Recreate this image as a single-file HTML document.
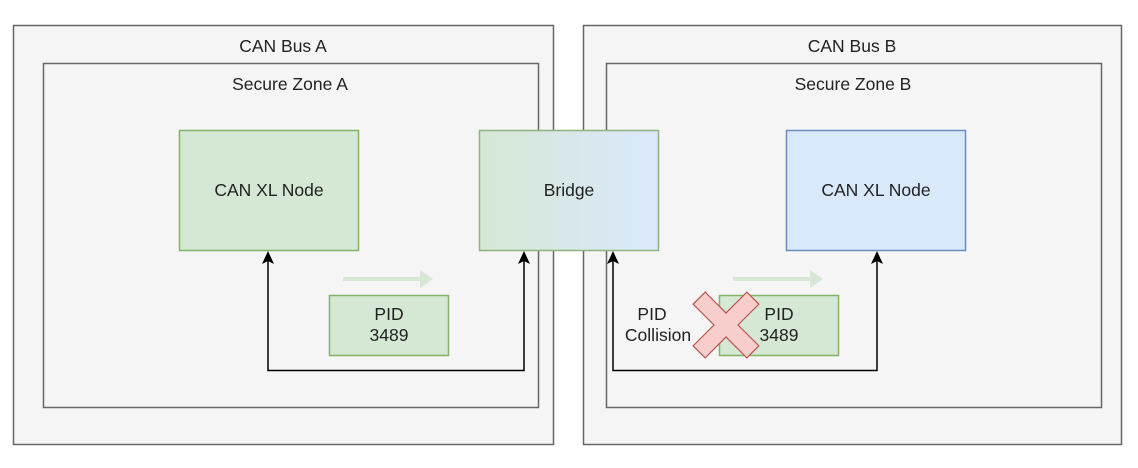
<!DOCTYPE html>
<html><head><meta charset="utf-8"><style>body{margin:0;background:#fff}svg{display:block}text{font-family:"Liberation Sans",Arial,sans-serif;fill:#222}</style></head><body>
<svg width="1138" height="468" viewBox="0 0 1138 468" xmlns="http://www.w3.org/2000/svg">
<defs>
<linearGradient id="g" x1="0" x2="1" y1="0" y2="0"><stop offset="0" stop-color="#d5e8d4"/><stop offset="1" stop-color="#dae8fc"/></linearGradient>
</defs>
<rect width="1138" height="468" fill="#fff"/>
<rect x="13.5" y="25.5" width="540" height="419" fill="#f5f5f5" stroke="#666" stroke-width="1.5"/>
<rect x="43.5" y="63.5" width="495" height="344" fill="#f5f5f5" stroke="#666" stroke-width="1.5"/>
<rect x="583.5" y="25.5" width="538" height="419" fill="#f5f5f5" stroke="#666" stroke-width="1.5"/>
<rect x="606.5" y="63.5" width="495" height="344" fill="#f5f5f5" stroke="#666" stroke-width="1.5"/>
<text x="283" y="52" font-size="17.5" text-anchor="middle">CAN Bus A</text>
<text x="290" y="90" font-size="17.5" text-anchor="middle">Secure Zone A</text>
<text x="852" y="52" font-size="17.5" text-anchor="middle">CAN Bus B</text>
<text x="853" y="90" font-size="17.5" text-anchor="middle">Secure Zone B</text>
<rect x="179.5" y="130.5" width="179" height="120" fill="#d5e8d4" stroke="#82b366" stroke-width="1.5"/>
<text x="269" y="196" font-size="17.5" text-anchor="middle">CAN XL Node</text>
<rect x="479.5" y="130.5" width="179" height="120" fill="url(#g)" stroke="#93b07f" stroke-width="1.5"/>
<text x="569" y="196" font-size="17.5" text-anchor="middle">Bridge</text>
<rect x="786.5" y="130.5" width="179" height="120" fill="#dae8fc" stroke="#6c8ebf" stroke-width="1.5"/>
<text x="876" y="196" font-size="17.5" text-anchor="middle">CAN XL Node</text>
<path d="M343,279 H422" stroke="#d5e8d4" stroke-width="4"/><path d="M420,270 L433,279 L420,288 Z" fill="#d5e8d4"/>
<path d="M733,279 H812" stroke="#d5e8d4" stroke-width="4"/><path d="M810,270 L823,279 L810,288 Z" fill="#d5e8d4"/>
<rect x="329.5" y="295.5" width="119" height="60" fill="#d5e8d4" stroke="#82b366" stroke-width="1.5"/>
<text x="389" y="320" font-size="17.5" text-anchor="middle">PID</text>
<text x="389" y="341" font-size="17.5" text-anchor="middle">3489</text>
<rect x="719.5" y="295.5" width="119" height="60" fill="#d5e8d4" stroke="#82b366" stroke-width="1.5"/>
<text x="779" y="320" font-size="17.5" text-anchor="middle">PID</text>
<text x="779" y="341" font-size="17.5" text-anchor="middle">3489</text>
<text x="652" y="320" font-size="17.5" text-anchor="middle">PID</text>
<text x="658" y="341" font-size="17.5" text-anchor="middle">Collision</text>
<path d="M268,253 V370.5 H524 V253" fill="none" stroke="#000" stroke-width="1.5"/>
<path d="M262,264 L268,251 L274,264 L268,261 Z M518,264 L524,251 L530,264 L524,261 Z" fill="#000"/>
<path d="M613,253 V370.5 H877 V253" fill="none" stroke="#000" stroke-width="1.5"/>
<path d="M607,264 L613,251 L619,264 L613,261 Z M871,264 L877,251 L883,264 L877,261 Z" fill="#000"/>
<g transform="translate(726,325) rotate(45)"><path d="M-8.5,-38 H8.5 V-8.5 H38 V8.5 H8.5 V38 H-8.5 V8.5 H-38 V-8.5 H-8.5 Z" fill="#f8cecc" stroke="#b85450" stroke-width="1.2"/></g>
</svg>
</body></html>
